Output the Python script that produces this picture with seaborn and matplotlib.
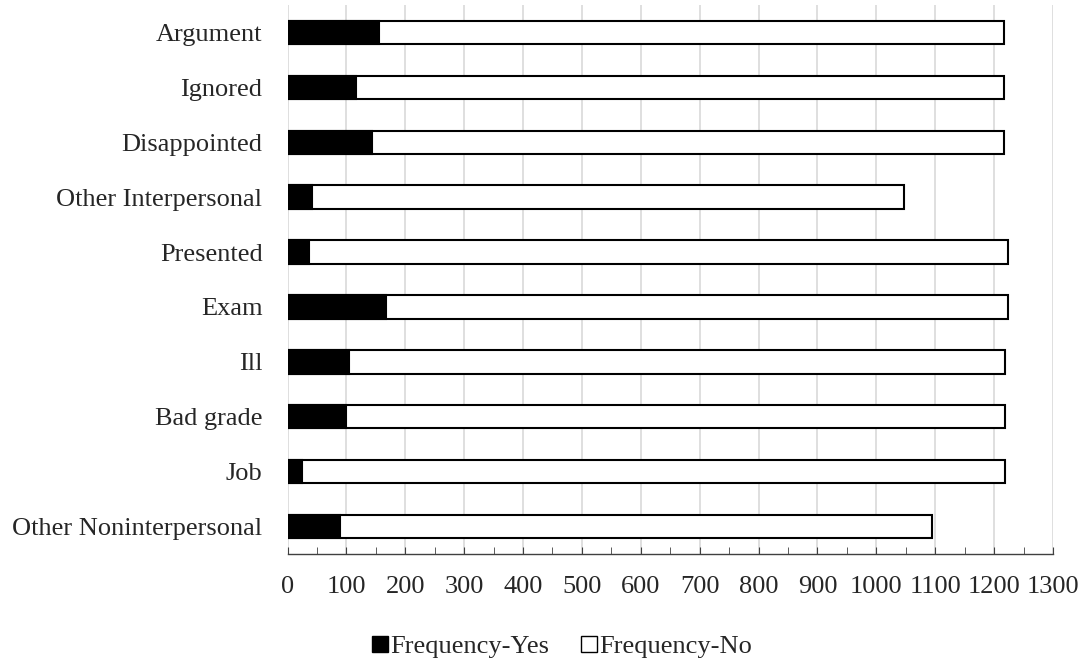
import numpy as np
import pandas as pd
import matplotlib
matplotlib.use("Agg")
import matplotlib.pyplot as plt
import seaborn as sns
from matplotlib.patches import Patch
from matplotlib.ticker import MultipleLocator

categories = ["Argument", "Ignored", "Disappointed", "Other Interpersonal", "Presented",
              "Exam", "Ill", "Bad grade", "Job", "Other Noninterpersonal"]
freq_yes = [156, 117, 144, 41, 36, 168, 105, 99, 25, 90]
freq_no = [1060, 1099, 1072, 1006, 1188, 1056, 1114, 1120, 1194, 1005]

df = pd.DataFrame({"category": categories, "yes": freq_yes, "no": freq_no})
df["total"] = df["yes"] + df["no"]

sns.set_style("white")
plt.rcParams["font.family"] = ["Liberation Serif", "DejaVu Serif"]

fig = plt.figure(figsize=(10.88, 6.66), dpi=100)
ax = fig.add_axes([287.5 / 1088, 1 - 554 / 666, (1053 - 287.5) / 1088, 549 / 666])

# stacked look: white total bar underneath, black "yes" part on top
sns.barplot(data=df, x="total", y="category", order=categories, color="white",
            edgecolor="black", linewidth=1.5, width=0.425, ax=ax, zorder=2)
sns.barplot(data=df, x="yes", y="category", order=categories, color="black",
            edgecolor="black", linewidth=1.5, width=0.425, ax=ax, zorder=3)

ax.set_xlim(0, 1300)
ax.xaxis.set_major_locator(MultipleLocator(100))
ax.xaxis.set_minor_locator(MultipleLocator(50))
ax.grid(axis="x", color="#d9d9d9", linewidth=1.2, zorder=0)
ax.set_axisbelow(True)
ax.tick_params(axis="x", which="both", direction="in", length=5, color="#404040",
               bottom=True, labelsize=19, pad=16)
ax.tick_params(axis="y", length=0, labelsize=19, pad=18)
for s in ["top", "right", "left"]:
    ax.spines[s].set_visible(False)
ax.spines["bottom"].set_color("#404040")
ax.spines["bottom"].set_linewidth(1)
ax.set_xlabel("")
ax.set_ylabel("")

handles = [Patch(facecolor="black", edgecolor="black", label="Frequency-Yes"),
           Patch(facecolor="white", edgecolor="black", label="Frequency-No")]
fig.legend(handles=handles, loc="center", bbox_to_anchor=(562 / 1088, 1 - 647 / 666),
           ncol=2, frameon=False, fontsize=19, handlelength=0.6, handleheight=0.6,
           handletextpad=0.1, columnspacing=1.2, borderaxespad=0, borderpad=0)

fig.savefig("out.png", dpi=100)
